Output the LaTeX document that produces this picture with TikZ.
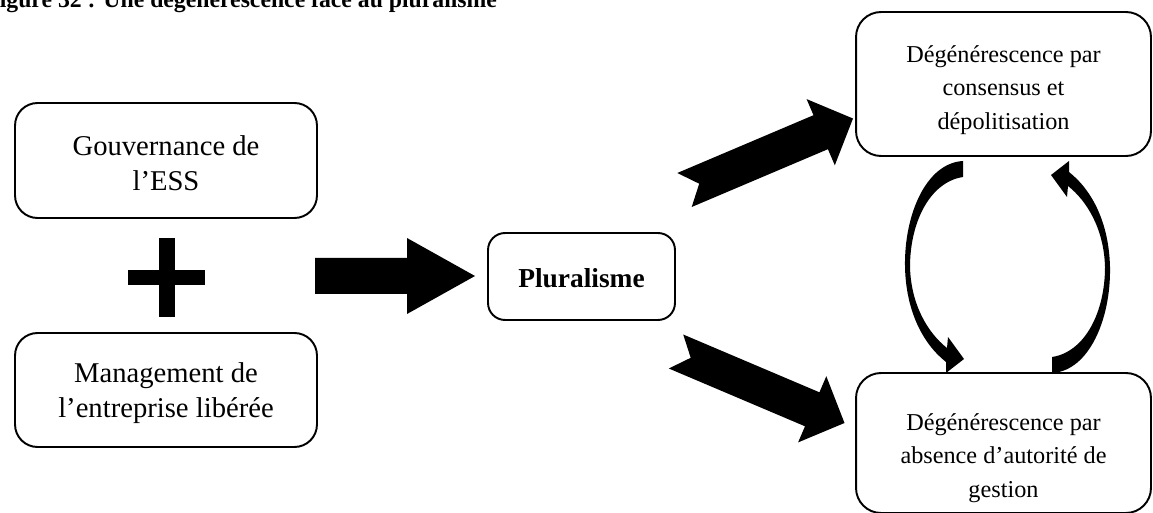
\documentclass[tikz,border=0pt]{standalone}
\usepackage{fontspec}
\setmainfont{Liberation Serif}

\begin{document}
\begin{tikzpicture}[x=0.02cm, y=-0.02cm,
	box/.style = {draw, line width=1.1pt, rounded corners=0.45cm, inner sep=0pt},
	leftbox/.style = {box, minimum width=6.04cm},
	rightbox/.style = {box, minimum width=5.9cm, rounded corners=0.5cm},
	lefttext/.style = {align=center, font=\fontsize{16.3}{20}\selectfont},
	righttext/.style = {align=center, font=\fontsize{13.8}{19}\selectfont},
	fat/.style = {fill=black, draw=none}]
	\useasboundingbox (0,0) rectangle (1153,513);
	% title, cut by the page
	\node [anchor=base west, inner sep=0pt, font=\fontsize{13.5}{16}\selectfont\bfseries] (title) at (-15,8) {Figure 32 : Une dégénérescence face au pluralisme};
	% boxes
	\node [leftbox, minimum height=2.3cm] (gouv) at (166,160.5) {};
	\node [lefttext] (gouvtxt) at ([yshift=-0.06cm]gouv.center) {Gouvernance de\\l’ESS};
	\node [leftbox, minimum height=2.28cm] (manag) at (166,390) {};
	\node [lefttext] (managtxt) at ([yshift=-0.06cm]manag.center) {Management de\\l’entreprise libérée};
	\node [box, rounded corners=0.34cm, minimum width=3.74cm, minimum height=1.74cm] (plur) at (581.5,276.5) {};
	\node [font=\fontsize{15.6}{19}\selectfont\bfseries] (plurtxt) at ([yshift=-0.04cm]plur.center) {Pluralisme};
	\node [rightbox, minimum height=2.88cm] (cons) at (1003.5,84) {};
	\node [righttext] (constxt) at ([yshift=-0.12cm]cons.center) {Dégénérescence par\\consensus et\\dépolitisation};
	\node [rightbox, minimum height=2.8cm] (abs) at (1003.5,443) {};
	\node [righttext] (abstxt) at ([yshift=-0.3cm]abs.center) {Dégénérescence par\\absence d’autorité de\\gestion};
	% plus sign
	\fill (159,238) rectangle (175,317);
	\fill (128,270) rectangle (205,285);
	% block arrows
	\draw [fat] (315,258) -- (407,258) -- (407,238) -- (475,276) -- (407,314) -- (407,294) -- (315,294) -- cycle;
	\draw [fat] (677.3,173) -- (813.5,115.2) -- (806.6,99.1) -- (853,118.5) -- (834.8,165.3) -- (827.9,149.2) -- (691.7,207) -- (699.2,183.7) -- cycle;
	\draw [fat] (683.2,334.5) -- (819.4,392.3) -- (826.3,376.2) -- (844.5,423) -- (798.1,442.4) -- (805,426.3) -- (668.8,368.5) -- (690.7,357.8) -- cycle;
	% curved arrows between the two right boxes
	\draw [fat] (963,161) .. controls (926,163) and (904,215) .. (905,267) .. controls (906,310) and (922,343) .. (946,362) -- (946,373) -- (964,359) -- (948,337) -- (947,348) .. controls (928,333) and (911,305) .. (910,267) .. controls (910,222) and (930,182) .. (963,177) -- cycle;
	\scope [rotate around={180:(1007.5,267)}]
	\draw [fat] (963,161) .. controls (926,163) and (904,215) .. (905,267) .. controls (906,310) and (922,343) .. (946,362) -- (946,373) -- (964,359) -- (948,337) -- (947,348) .. controls (928,333) and (911,305) .. (910,267) .. controls (910,222) and (930,182) .. (963,177) -- cycle;
	\endscope
\end{tikzpicture}
\end{document}
